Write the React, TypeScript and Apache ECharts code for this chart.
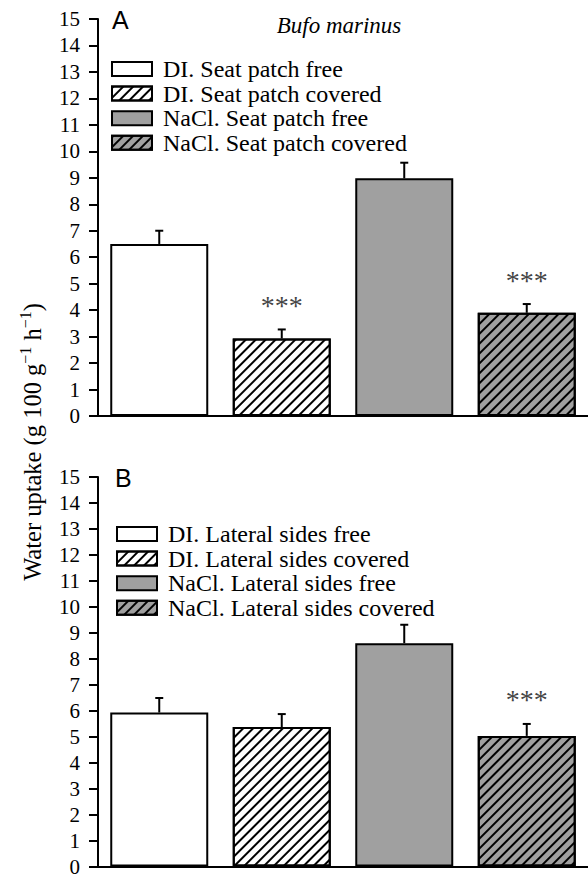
import React, { useEffect, useRef } from 'react';
import * as echarts from 'echarts';

const categories = ['DI free', 'DI covered', 'NaCl free', 'NaCl covered'];
const legendA = ['DI. Seat patch free', 'DI. Seat patch covered', 'NaCl. Seat patch free', 'NaCl. Seat patch covered'];
const legendB = ['DI. Lateral sides free', 'DI. Lateral sides covered', 'NaCl. Lateral sides free', 'NaCl. Lateral sides covered'];
const meansA = [6.5, 2.93, 8.98, 3.9];
const errA = [0.5, 0.34, 0.59, 0.33];
const sigA = ['', '***', '', '***'];
const meansB = [5.93, 5.37, 8.6, 5.03];
const errB = [0.56, 0.5, 0.71, 0.46];
const sigB = ['', '', '', '***'];
const fills = ['#ffffff', '#ffffff', '#a0a0a0', '#a0a0a0'];
const hatched = [false, true, false, true];

const SERIF = 'Liberation Serif';

function barSeries(names: string[], means: number[], axisIdx: number) {
  return names.map((name, i) => ({
    name,
    type: 'bar',
    xAxisIndex: axisIdx,
    yAxisIndex: axisIdx,
    stack: 'p' + axisIdx,
    barWidth: '80%',
    data: means.map((m, j) => (j === i ? m : '-')),
    itemStyle: {
      color: fills[i],
      borderColor: '#000',
      borderWidth: 2,
      decal: hatched[i]
        ? {
            symbol: 'rect',
            symbolSize: 1,
            dashArrayX: [1, 0],
            dashArrayY: [1.6, 4.4],
            rotation: -Math.PI / 4,
            color: '#000',
          }
        : 'none',
    },
  }));
}

function errSeries(means: number[], errs: number[], sig: string[], axisIdx: number) {
  return {
    type: 'custom',
    name: 'err' + axisIdx,
    xAxisIndex: axisIdx,
    yAxisIndex: axisIdx,
    z: 10,
    data: means.map((m, i) => [i, m, errs[i]]),
    renderItem: (params: any, api: any) => {
      const x = api.value(0);
      const m = api.value(1);
      const e = api.value(2);
      const p0 = api.coord([x, m]);
      const p1 = api.coord([x, m + e]);
      const children: any[] = [
        { type: 'line', shape: { x1: p0[0], y1: p0[1], x2: p1[0], y2: p1[1] }, style: { stroke: '#000', lineWidth: 2 } },
        { type: 'line', shape: { x1: p1[0] - 4, y1: p1[1], x2: p1[0] + 4, y2: p1[1] }, style: { stroke: '#000', lineWidth: 2 } },
      ];
      const s = sig[params.dataIndex];
      if (s) {
        children.push({
          type: 'text',
          x: p1[0],
          y: p1[1] - 24,
          style: { text: s, fill: '#444', font: `28px "${SERIF}"`, align: 'center', verticalAlign: 'middle' },
        });
      }
      return { type: 'group', children };
    },
  };
}

function legendOpt(names: string[], left: number, top: number) {
  return {
    data: names,
    orient: 'vertical',
    left,
    top,
    padding: 0,
    itemWidth: 40,
    itemHeight: 14,
    itemGap: 0.6,
    icon: 'rect',
    selectedMode: false,
    textStyle: { fontFamily: SERIF, fontSize: 24, lineHeight: 22.3, color: '#000', padding: [0, 0, 0, 6] },
  };
}

function yAxisOpt(gridIndex: number) {
  return {
    type: 'value',
    gridIndex,
    min: 0,
    max: 15,
    interval: 1,
    splitLine: { show: false },
    axisLine: { show: true, lineStyle: { color: '#000', width: 2 } },
    axisTick: { show: true, length: 9, lineStyle: { color: '#000', width: 2 } },
    axisLabel: { margin: 18, fontFamily: SERIF, fontSize: 21, color: '#000' },
  };
}

function xAxisOpt(gridIndex: number) {
  return {
    type: 'category',
    gridIndex,
    data: categories,
    axisLine: { show: true, lineStyle: { color: '#000', width: 2 } },
    axisTick: { show: false },
    axisLabel: { show: false },
  };
}

export default function App() {
  const ref = useRef<HTMLDivElement>(null);
  useEffect(() => {
    if (!ref.current) return;
    const chart = echarts.init(ref.current, undefined, { renderer: 'svg' });
    chart.setOption({
      animation: false,
      backgroundColor: '#fff',
      grid: [
        { left: 98, top: 19, width: 490, height: 397 },
        { left: 98, top: 477, width: 490, height: 396 },
      ],
      xAxis: [xAxisOpt(0), xAxisOpt(1)],
      yAxis: [yAxisOpt(0), yAxisOpt(1)],
      legend: [legendOpt(legendA, 111, 57), legendOpt(legendB, 116, 522)],
      series: [
        ...barSeries(legendA, meansA, 0),
        ...barSeries(legendB, meansB, 1),
        errSeries(meansA, errA, sigA, 0),
        errSeries(meansB, errB, sigB, 1),
      ],
      graphic: [
        { type: 'text', left: 112, top: 7, style: { text: 'A', font: '25px "Liberation Sans"', fill: '#000' } },
        { type: 'text', left: 115, top: 465, style: { text: 'B', font: '25px "Liberation Sans"', fill: '#000' } },
        {
          type: 'text',
          x: 339,
          y: 25,
          style: { text: 'Bufo marinus', font: `italic 23px "${SERIF}"`, fill: '#000', align: 'center', verticalAlign: 'middle' },
        },
        {
          type: 'text',
          x: 31,
          y: 442,
          rotation: Math.PI / 2,
          style: {
            text: '{a|Water uptake (g 100 g}{s|\u22121}{a| h}{s|\u22121}{a|)}',
            align: 'center',
            verticalAlign: 'middle',
            rich: {
              a: { fontFamily: SERIF, fontSize: 24.5, fill: '#000', lineHeight: 27, verticalAlign: 'bottom' },
              s: { fontFamily: SERIF, fontSize: 16, fill: '#000', lineHeight: 27, verticalAlign: 'top' },
            },
          },
        },
      ],
    });
    return () => chart.dispose();
  }, []);
  return <div ref={ref} style={{ position: 'fixed', left: 0, top: 0, width: 588, height: 877 }} />;
}
